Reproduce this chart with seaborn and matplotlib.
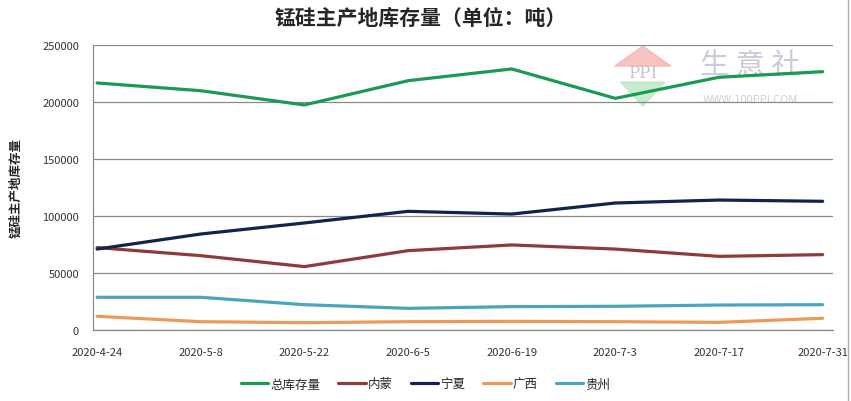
import numpy as np
import pandas as pd
import matplotlib
matplotlib.use("Agg")
import matplotlib.pyplot as plt
import seaborn as sns
from matplotlib.lines import Line2D
from matplotlib.patches import Rectangle, Polygon

sns.set_style("white")
plt.rcParams['font.family'] = ['Noto Sans CJK SC', 'DejaVu Sans']

# data ----
dates = ['2020-4-24', '2020-5-8', '2020-5-22', '2020-6-5',
         '2020-6-19', '2020-7-3', '2020-7-17', '2020-7-31']
total = [216700, 209900, 197400, 218700, 229000, 203200, 221700, 226600]
neimeng = [72300, 65200, 55600, 69600, 74600, 71000, 64600, 66100]
ningxia = [71000, 84200, 93900, 104100, 101700, 111400, 114000, 112900]
guangxi = [12000, 7300, 6400, 7300, 7600, 7300, 6700, 10300]
guizhou = [28700, 28700, 22200, 19000, 20500, 20800, 21900, 22200]

series_names = ['总库存量', '内蒙', '宁夏', '广西', '贵州']
colors = ['#1a9a52', '#8e3b3b', '#13234f', '#eb9a5a', '#4aa6bd']

df = pd.DataFrame({'idx': np.arange(len(dates)),
                   '总库存量': total, '内蒙': neimeng, '宁夏': ningxia,
                   '广西': guangxi, '贵州': guizhou})
long_df = df.melt(id_vars='idx', var_name='series', value_name='stock')

fig = plt.figure(figsize=(8.51, 4.02), dpi=100)
ax = fig.add_axes([93 / 851, 1 - 331 / 402, (833 - 93) / 851, (331 - 46) / 402])

# watermark ----
ax.add_patch(Polygon([[0.705, 0.926], [0.743, 0.996], [0.781, 0.926]], closed=True,
                     transform=ax.transAxes, color='#f4b3b3', alpha=0.8, zorder=0,
                     clip_on=False))
ax.add_patch(Polygon([[0.713, 0.87], [0.743, 0.786], [0.773, 0.87]], closed=True,
                     transform=ax.transAxes, color='#b9e6c3', alpha=0.8, zorder=0))
ax.text(0.743, 0.905, 'PPI', transform=ax.transAxes, ha='center', va='center',
        fontsize=12, color='#c4c4d6', family='DejaVu Serif', zorder=0)
ax.text(0.888, 0.93, '生 意 社', transform=ax.transAxes, ha='center', va='center',
        fontsize=21, color='#c8ccd8', zorder=0)
ax.text(0.888, 0.81, 'WWW.100PPI.COM', transform=ax.transAxes, ha='center', va='center',
        fontsize=8, color='#d0d0d0', zorder=0)

sns.lineplot(data=long_df, x='idx', y='stock', hue='series', hue_order=series_names,
             palette=colors, linewidth=2.3, sort=False, ax=ax, legend=False, zorder=3)

ax.set_xlim(-0.04, 7.1)
ax.set_ylim(0, 250000)
ax.set_yticks(np.arange(0, 250001, 50000))
ax.set_xticks(df['idx'])
ax.set_xticklabels(dates)
ax.tick_params(axis='both', labelsize=8, colors='#333333', length=0, pad=10)
ax.tick_params(axis='x', pad=12)
ax.yaxis.grid(True, color='#8a8a8a', linewidth=0.9)
ax.set_axisbelow(True)
for side in ['top', 'right']:
    ax.spines[side].set_visible(False)
for side in ['left', 'bottom']:
    ax.spines[side].set_color('#8a8a8a')
    ax.spines[side].set_linewidth(0.9)

ax.set_xlabel('')
ax.set_ylabel('锰硅主产地库存量', fontsize=9, fontweight='bold', labelpad=14)
fig.text(0.494, 0.955, '锰硅主产地库存量（单位：吨）', ha='center', va='center',
         fontsize=15, fontweight='bold')

handles = [Line2D([0], [0], color=c, linewidth=2.3) for c in colors]
fig.legend(handles, series_names, loc='center', bbox_to_anchor=(0.5, 1 - 385 / 402),
           ncol=5, frameon=False, fontsize=9, handlelength=2.2, handletextpad=0.2,
           columnspacing=1.4)

# right frame edge of the original image ----
fig.add_artist(Rectangle((848 / 851, 0), 3 / 851, 1, transform=fig.transFigure,
                         color='white', zorder=10))
fig.add_artist(Line2D([848 / 851, 848 / 851], [0, 1], transform=fig.transFigure,
                      color='#9fb59f', linewidth=1.0, zorder=11))

plt.savefig('out.png', dpi=100)
